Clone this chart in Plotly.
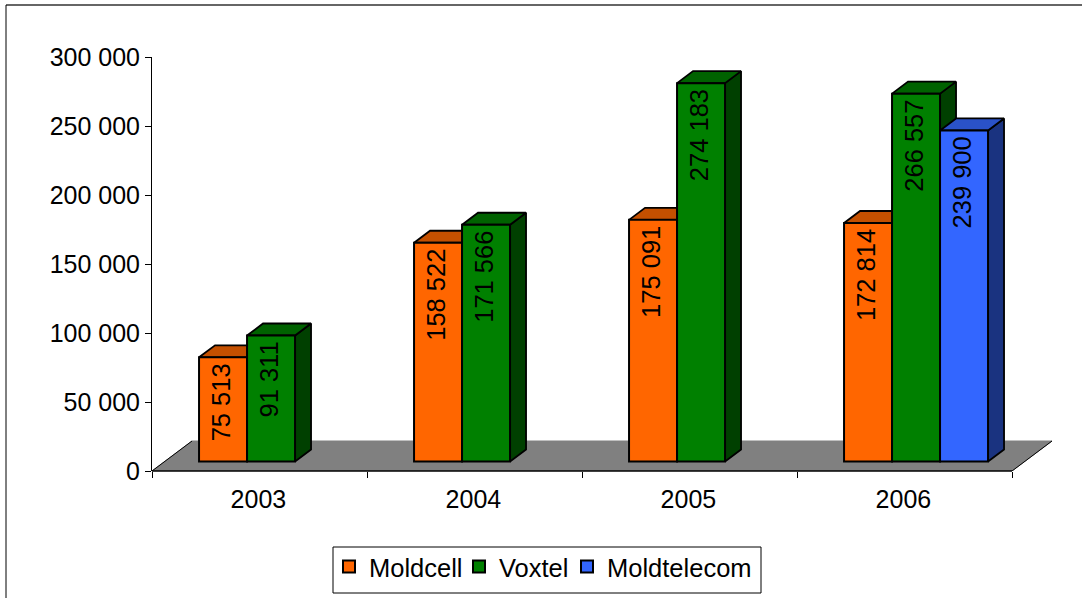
import plotly.graph_objects as go

years = ["2003", "2004", "2005", "2006"]
moldcell = [75513, 158522, 175091, 172814]
voxtel = [91311, 171566, 274183, 266557]
moldtelecom = [None, None, None, 239900]
y_ticks = [0, 50000, 100000, 150000, 200000, 250000, 300000]
y_labels = ["0", "50 000", "100 000", "150 000", "200 000", "250 000", "300 000"]

W, H = 1082, 598
PX_L, PX_R, PX_X_END, PX_T, PX_B = 152, 1012, 1062, 57, 471
UX = (PX_R - PX_L) / len(years)          # pixels per category
UY = (PX_B - PX_T) / y_ticks[-1]         # pixels per unit

FLOOR_DX, FLOOR_DY = 40 / UX, 30 / UY    # depth of the floor
BAR_DX, BAR_DY = 16 / UX, 12 / UY        # depth of a bar
OFF_X, OFF_Y = 13.5 / UX, 9.5 / UY       # front of bars relative to axis plane
BAR_W = 48 / UX
CLUSTER_START = 0.156

series = [
    ("Moldcell", moldcell, "#FF6600", "#C45000", "#803300"),
    ("Voxtel", voxtel, "#008000", "#006200", "#004000"),
    ("Moldtelecom", moldtelecom, "#3366FF", "#2A52C8", "#1A3380"),
]
legend_x = [329, 459, 567]   # left edge of each legend entry

fig = go.Figure()
n = len(years)
x_max = (PX_X_END - PX_L) / UX

# floor
fig.add_trace(go.Scatter(
    x=[0, FLOOR_DX, n + FLOOR_DX, n, 0], y=[0, FLOOR_DY, FLOOR_DY, 0, 0],
    mode="lines", fill="toself", fillcolor="#808080", line=dict(color="#808080", width=1),
    showlegend=False, hoverinfo="skip"))
fig.add_trace(go.Scatter(
    x=[FLOOR_DX, 0], y=[FLOOR_DY, 0],
    mode="lines", line=dict(color="#000000", width=1),
    showlegend=False, hoverinfo="skip"))
fig.add_trace(go.Scatter(
    x=[n, n + FLOOR_DX], y=[0, FLOOR_DY],
    mode="lines", line=dict(color="#000000", width=1),
    showlegend=False, hoverinfo="skip"))

# side and top faces
for s, (name, vals, front, top, side) in enumerate(series):
    for c, v in enumerate(vals):
        if v is None:
            continue
        x0 = c + CLUSTER_START + OFF_X + s * BAR_W
        x1 = x0 + BAR_W
        y0 = OFF_Y
        y1 = OFF_Y + v
        fig.add_trace(go.Scatter(
            x=[x1, x1 + BAR_DX, x1 + BAR_DX, x1, x1],
            y=[y0, y0 + BAR_DY, y1 + BAR_DY, y1, y0],
            mode="lines", fill="toself", fillcolor=side, line=dict(color="#000000", width=1.8),
            showlegend=False, hoverinfo="skip"))
        fig.add_trace(go.Scatter(
            x=[x0, x0 + BAR_DX, x1 + BAR_DX, x1, x0],
            y=[y1, y1 + BAR_DY, y1 + BAR_DY, y1, y1],
            mode="lines", fill="toself", fillcolor=top, line=dict(color="#000000", width=1.8),
            showlegend=False, hoverinfo="skip"))

# front faces, on an overlaying subplot so they sit above the faces
annotations = []
for s, (name, vals, front, top, side) in enumerate(series):
    xs, ys = [], []
    for c, v in enumerate(vals):
        if v is None:
            continue
        xc = c + CLUSTER_START + OFF_X + s * BAR_W + BAR_W / 2
        xs.append(xc)
        ys.append(v)
        annotations.append(dict(
            x=xc, y=OFF_Y + v, xref="x2", yref="y2", text=f"{v:,}".replace(",", " "),
            textangle=-90, showarrow=False, xanchor="center", yanchor="top",
            xshift=-2, yshift=-4, font=dict(color="#000000", size=25.5)))
    fig.add_trace(go.Bar(
        x=xs, y=ys, base=OFF_Y, width=BAR_W, name=name, xaxis="x2", yaxis="y2",
        legend="legend" if s == 0 else f"legend{s + 1}",
        marker=dict(color=front, line=dict(color="#000000", width=2))))

font = dict(family="Liberation Sans, Arial, sans-serif", size=25, color="#000000")
xdom = [PX_L / W, PX_X_END / W]
ydom = [1 - PX_B / H, 1 - PX_T / H]


def legend_at(px):
    return dict(x=px / W, xanchor="left", y=1 - 567 / H, yanchor="middle",
                bgcolor="rgba(0,0,0,0)", borderwidth=0,
                font=dict(size=25.5), itemclick=False, itemdoubleclick=False)


fig.update_layout(
    width=W, height=H, autosize=False,
    margin=dict(l=0, r=0, t=0, b=0, autoexpand=False),
    paper_bgcolor="#FFFFFF", plot_bgcolor="rgba(0,0,0,0)",
    font=font, barmode="overlay", annotations=annotations,
    xaxis=dict(domain=xdom, range=[0, x_max], tickmode="array",
               tickvals=[i + 0.495 for i in range(n)], ticktext=years,
               ticks="", ticklabelstandoff=11, showgrid=False, zeroline=False,
               showline=False,
               minor=dict(tickmode="array", tickvals=list(range(n + 1)), ticks="outside",
                          ticklen=6, tickwidth=1, tickcolor="#000000", showgrid=False)),
    yaxis=dict(domain=ydom, range=[0, y_ticks[-1]], tickmode="array",
               tickvals=y_ticks, ticktext=y_labels, ticks="outside", ticklen=6, tickwidth=1,
               tickcolor="#000000", showgrid=False, zeroline=False,
               showline=True, linecolor="#000000", linewidth=1),
    xaxis2=dict(domain=xdom, range=[0, x_max], overlaying="x", visible=False),
    yaxis2=dict(domain=ydom, range=[0, y_ticks[-1]], overlaying="y", visible=False),
    legend=legend_at(legend_x[0]),
    legend2=legend_at(legend_x[1]),
    legend3=legend_at(legend_x[2]),
    shapes=[
        dict(type="line", xref="paper", yref="paper", x0=6 / W, x1=1, y0=1 - 5 / H, y1=1 - 5 / H,
             line=dict(color="#333333", width=1.5)),
        dict(type="line", xref="paper", yref="paper", x0=6 / W, x1=6 / W, y0=0, y1=1 - 5 / H,
             line=dict(color="#000000", width=1)),
        dict(type="line", xref="paper", yref="paper", x0=PX_L / W, x1=PX_R / W,
             y0=1 - PX_B / H, y1=1 - PX_B / H, line=dict(color="#000000", width=1.5)),
        dict(type="rect", xref="paper", yref="paper", x0=333 / W, x1=761 / W,
             y0=1 - 593 / H, y1=1 - 547 / H, line=dict(color="#000000", width=1),
             fillcolor="#FFFFFF", layer="below"),
    ],
)

fig.write_html("out.html", config={"displayModeBar": False},
               post_script="document.body.style.margin='0';")
